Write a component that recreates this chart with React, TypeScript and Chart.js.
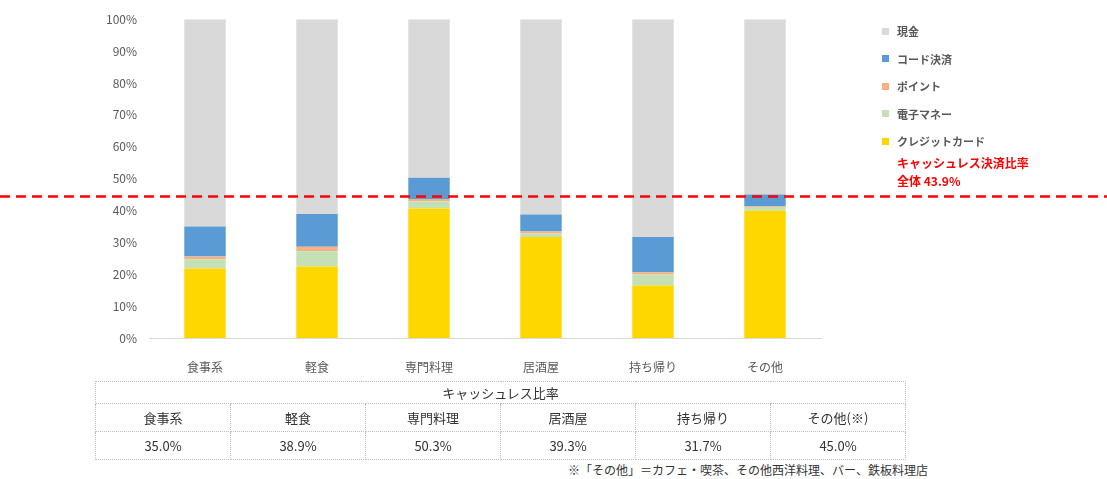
import React, { useEffect, useRef } from "react";
import { Chart, registerables } from "chart.js";
Chart.register(...registerables);

const categories = ["食事系", "軽食", "専門料理", "居酒屋", "持ち帰り", "その他"];
const creditCard = [21.8, 22.4, 40.6, 31.7, 16.5, 39.9];
const eMoney = [2.9, 4.8, 2.3, 1.1, 3.4, 1.2];
const points = [0.9, 1.4, 0.7, 0.6, 0.7, 0.2];
const codePay = [9.4, 10.3, 6.7, 5.3, 11.1, 3.7];
const cash = categories.map((_, i) => +(100 - creditCard[i] - eMoney[i] - points[i] - codePay[i]).toFixed(1));
const overallRate = 43.9;
const yTicks = [0, 10, 20, 30, 40, 50, 60, 70, 80, 90, 100];
const tableHeaders = ["食事系", "軽食", "専門料理", "居酒屋", "持ち帰り", "その他(※)"];
const tableValues = ["35.0%", "38.9%", "50.3%", "39.3%", "31.7%", "45.0%"];

const seriesNames = ["クレジットカード", "電子マネー", "ポイント", "コード決済", "現金"];
const seriesColors = ["#FFD700", "#C5E0B4", "#F4B183", "#5B9BD5", "#D9D9D9"];
const seriesData = [creditCard, eMoney, points, codePay, cash];

const FONT = "'Noto Sans CJK JP', 'Noto Sans', sans-serif";
const CANVAS_H = 384;

const refLine = {
  id: "refLine",
  afterDatasetsDraw(chart: any) {
    const y = chart.scales.y.getPixelForValue(overallRate) - 1.5;
    const ctx = chart.ctx;
    ctx.save();
    ctx.strokeStyle = "#FF0000";
    ctx.lineWidth = 2.5;
    ctx.setLineDash([10, 6]);
    ctx.beginPath();
    ctx.moveTo(0, y);
    ctx.lineTo(chart.width, y);
    ctx.stroke();
    ctx.restore();
  },
};

export default function App() {
  const ref = useRef<HTMLCanvasElement>(null);
  useEffect(() => {
    document.body.style.margin = "0";
    const chart = new Chart(ref.current!, {
      type: "bar",
      data: {
        labels: categories,
        datasets: seriesData.map((d, i) => ({
          label: seriesNames[i],
          data: d,
          backgroundColor: seriesColors[i],
          borderWidth: 0,
          categoryPercentage: 1,
          barPercentage: 0.37,
        })),
      },
      options: {
        animation: false,
        responsive: false,
        layout: { padding: { left: 0, right: 286, top: 16, bottom: 0 } },
        plugins: { legend: { display: false }, tooltip: { enabled: false } },
        scales: {
          x: {
            stacked: true,
            grid: { display: false, drawTicks: false },
            border: { display: true, color: "#D9D9D9", width: 1 },
            ticks: { color: "#595959", font: { family: FONT, size: 12 }, padding: 22 },
            afterFit: (s: any) => { s.height = CANVAS_H - 338; },
          },
          y: {
            stacked: true,
            min: 0,
            max: 100,
            afterBuildTicks: (s: any) => { s.ticks = yTicks.map((v) => ({ value: v })); },
            grid: { display: false, drawTicks: false },
            border: { display: false },
            ticks: {
              color: "#595959",
              font: { family: FONT, size: 12 },
              padding: 12,
              callback: (v: any) => v + "%",
            },
            afterFit: (s: any) => { s.width = 149; },
          },
        },
      },
      plugins: [refLine],
    });
    return () => chart.destroy();
  }, []);

  const legendOrder = [4, 3, 2, 1, 0];
  const cell: React.CSSProperties = {
    border: "1px dotted #BFBFBF",
    textAlign: "center",
    padding: 0,
    fontSize: 13,
    color: "#333",
  };
  return (
    <div style={{ position: "relative", width: 1107, height: 479, fontFamily: FONT, background: "#fff" }}>
      <canvas ref={ref} width={1107} height={CANVAS_H} style={{ position: "absolute", left: 0, top: 0 }} />
      {legendOrder.map((si, k) => (
        <div key={si} style={{ position: "absolute", left: 882, top: 24 + k * 27.5, display: "flex", alignItems: "center", fontSize: 11, fontWeight: 700, color: "#595959", height: 14 }}>
          <span style={{ display: "inline-block", width: 7, height: 7, background: seriesColors[si], marginRight: 8 }} />
          {seriesNames[si]}
        </div>
      ))}
      <div style={{ position: "absolute", left: 897, top: 154, color: "#FF0000", fontWeight: 700, fontSize: 12, lineHeight: "18px" }}>
        キャッシュレス決済比率<br />全体 {overallRate}%
      </div>
      <table style={{ position: "absolute", left: 95, top: 381, width: 811, borderCollapse: "collapse", tableLayout: "fixed" }}>
        <tbody>
          <tr style={{ height: 22 }}>
            <td colSpan={6} style={cell}>キャッシュレス比率</td>
          </tr>
          <tr style={{ height: 28 }}>
            {tableHeaders.map((h) => <td key={h} style={cell}>{h}</td>)}
          </tr>
          <tr style={{ height: 28 }}>
            {tableValues.map((v, i) => <td key={i} style={cell}>{v}</td>)}
          </tr>
        </tbody>
      </table>
      <div style={{ position: "absolute", right: 1107 - 928, top: 461, fontSize: 12, color: "#333" }}>
        ※「その他」＝カフェ・喫茶、その他西洋料理、バー、鉄板料理店
      </div>
    </div>
  );
}
